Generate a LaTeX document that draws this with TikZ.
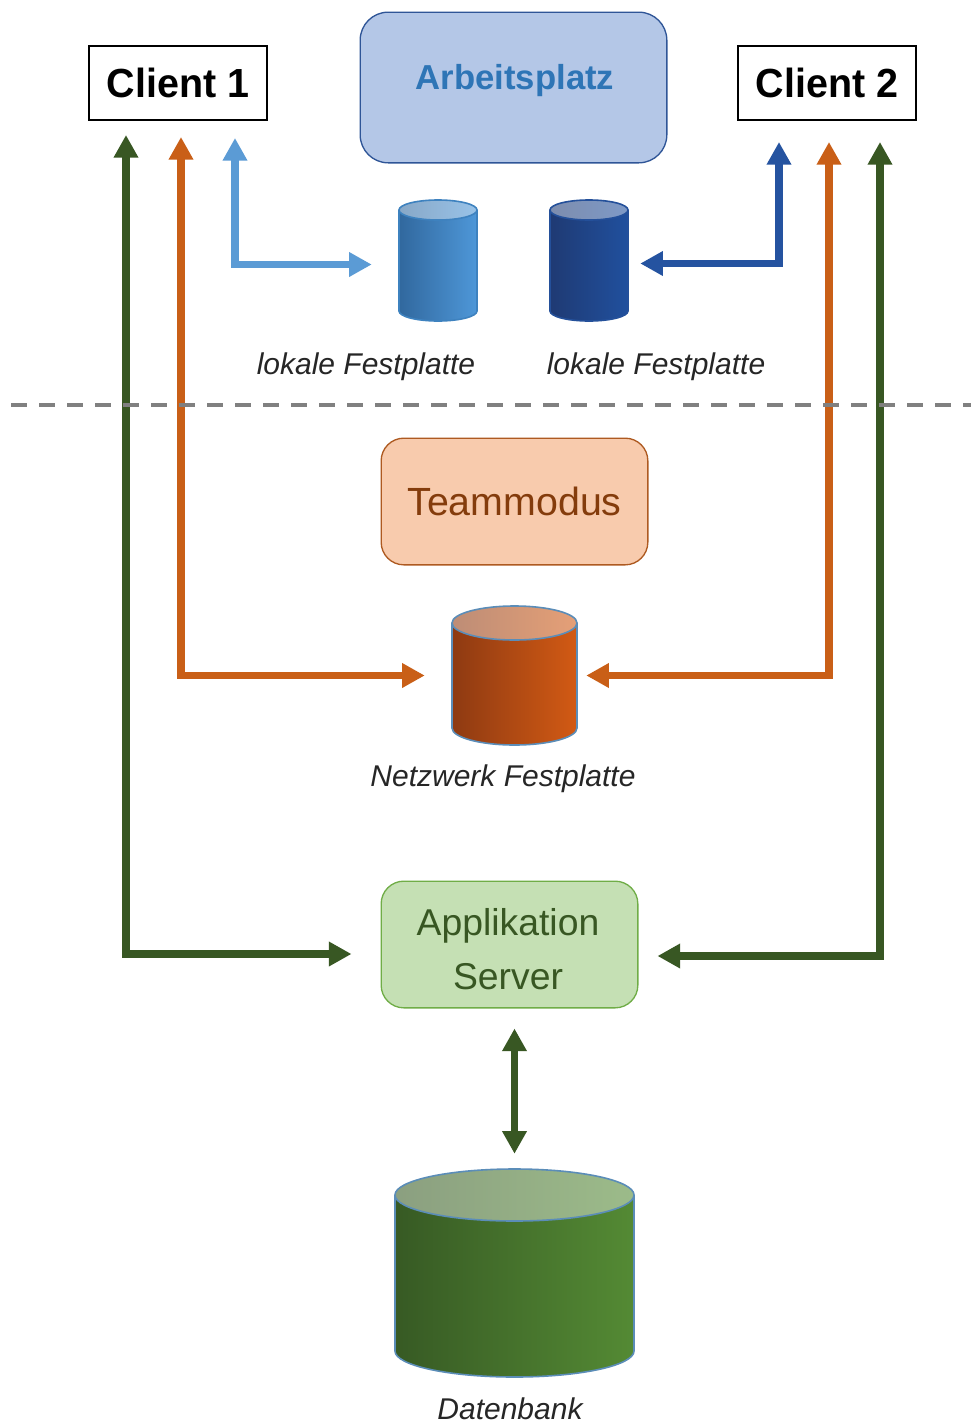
\documentclass[tikz,border=0pt]{standalone}
\usepackage{fontspec}
\setmainfont{Liberation Sans}
\newfontfamily\clientfont[FakeStretch=0.97]{Liberation Sans}
\usetikzlibrary{arrows.meta,calc}
\definecolor{lblue}{HTML}{5B9BD5}
\definecolor{dblue}{HTML}{2553A0}
\definecolor{boxblue}{HTML}{2F5597}
\definecolor{orng}{HTML}{C95F17}
\definecolor{grn}{HTML}{385723}
\definecolor{apfill}{HTML}{B4C7E7}
\definecolor{aptext}{HTML}{2E75B6}
\definecolor{tmfill}{HTML}{F8CBAD}
\definecolor{tmline}{HTML}{AE5A21}
\definecolor{tmtext}{HTML}{843C0C}
\definecolor{asfill}{HTML}{C5E0B4}
\definecolor{asline}{HTML}{70AD47}
\definecolor{lineA}{HTML}{3E82BF}
\definecolor{lineB}{HTML}{24509A}
\definecolor{lineC}{HTML}{5B8DB8}
\definecolor{aone}{HTML}{31689E}\definecolor{atwo}{HTML}{4E97D8}
\definecolor{bone}{HTML}{1F3A73}\definecolor{btwo}{HTML}{20509E}
\definecolor{cone}{HTML}{8E3A12}\definecolor{ctwo}{HTML}{D25A14}
\definecolor{done}{HTML}{375A24}\definecolor{dtwo}{HTML}{548A34}
\definecolor{dashgray}{HTML}{808080}
\tikzset{
  x=0.75pt,y=-0.75pt,
  conn/.style={line width=5.4pt,line join=miter,{Triangle[width=17.5pt,length=17pt]}-{Triangle[width=17.5pt,length=17pt]}},
  client/.style={draw=black,line width=1.5pt,fill=white,minimum width=133.5pt,minimum height=55.5pt,inner sep=0pt,font=\fontsize{30.5}{36}\clientfont\bfseries},
  rbox/.style={line width=1pt,inner sep=0pt},
  caption/.style={font=\fontsize{22.5}{26}\selectfont\itshape,text=black!85,inner sep=0pt},
}
% name, cx, top-centre y, bottom-centre y, rx, ry, dark, light, outline
\newcommand{\cyl}[9]{%
  \fill[left color=#7,right color=#8] (#2-#5,#3) -- (#2-#5,#4) arc[start angle=180,end angle=360,x radius=#5*0.75pt,y radius=#6*0.75pt] -- (#2+#5,#3) -- cycle;
  \fill[left color=#7!58!white,right color=#8!58!white] (#2,#3) ellipse[x radius=#5*0.75pt,y radius=#6*0.75pt];
  \draw[#9,line width=1.2pt] (#2-#5,#3) -- (#2-#5,#4) arc[start angle=180,end angle=360,x radius=#5*0.75pt,y radius=#6*0.75pt] -- (#2+#5,#3);
  \draw[#9,line width=1.2pt] (#2,#3) ellipse[x radius=#5*0.75pt,y radius=#6*0.75pt];
  \node[inner sep=0pt,minimum width=#5*1.5pt,minimum height=(#4-#3+2*#6)*0.75pt] (#1) at (#2,{(#3+#4)/2}) {};
}
\begin{document}
\begin{tikzpicture}
\useasboundingbox (0,0) rectangle (971,1424);
\fill[white] (0,0) rectangle (971,1424);

\node[client] (c1) at (178,83) {\raisebox{-1pt}{Client 1}};
\node[client] (c2) at (827,83) {\raisebox{-1pt}{Client 2}};
\node[rbox,draw=boxblue,fill=apfill,minimum width=230pt,minimum height=113pt,rounded corners=21pt] (ap) at (513.5,87.5) {};
\node[text=aptext,font=\fontsize{26}{30}\selectfont\bfseries,inner sep=0pt] (apt) at (515,81) {Arbeitsplatz};
\node[rbox,draw=tmline,fill=tmfill,minimum width=200pt,minimum height=95pt,rounded corners=17pt,text=tmtext,font=\fontsize{29.5}{34}\selectfont] (tm) at (514.5,501.5) {Teammodus};
\node[rbox,draw=asline,fill=asfill,minimum width=192.5pt,minimum height=95pt,rounded corners=17pt] (as) at (509.5,944.5) {};
\node[text=grn,font=\fontsize{28}{34}\selectfont,inner sep=0pt] (ast1) at (508,926) {Applikation};
\node[text=grn,font=\fontsize{28}{34}\selectfont,inner sep=0pt] (ast2) at (508,977) {Server};

\cyl{d1}{438}{210}{311}{39}{10}{aone}{atwo}{lineA}
\cyl{d2}{589}{210}{311}{39}{10}{bone}{btwo}{lineB}
\cyl{d3}{514.5}{623}{728}{62.5}{17}{cone}{ctwo}{lineC}
\cyl{d4}{514.5}{1195}{1351}{119.5}{26}{done}{dtwo}{lineC}

\node[caption] (l1) at (366,367) {lokale Festplatte};
\node[caption] (l2) at (656,367) {lokale Festplatte};
\node[caption] (l3) at (503,779) {Netzwerk Festplatte};
\node[caption] (l4) at (510,1409) {Datenbank};

% connectors
\draw[conn,lblue] ([shift={(57,17)}]c1.south) |- ([shift={(-27,4)}]d1.west);
\draw[conn,dblue] ([shift={(-48,21)}]c2.south) |- ([shift={(12,3)}]d2.east);
\draw[conn,orng] ([shift={(3,16)}]c1.south) |- ([shift={(-27,0)}]d3.west);
\draw[conn,orng] ([shift={(2,21)}]c2.south) |- ([shift={(9,0)}]d3.east);
\draw[conn,grn] ([shift={(-52,14)}]c1.south) |- ([shift={(-29,9.5)}]as.west);
\draw[conn,grn] ([shift={(53,21)}]c2.south) |- ([shift={(19,11.5)}]as.east);
\draw[conn,grn] ([shift={(5,20)}]as.south) -- ([shift={(0,-15)}]d4.north);

\coordinate (dl) at (11,405);
\coordinate (dr) at (971,405);
\draw[dashgray,line width=3pt,dash pattern=on 12pt off 9pt] (dl) -- (dr);
\end{tikzpicture}
\end{document}
